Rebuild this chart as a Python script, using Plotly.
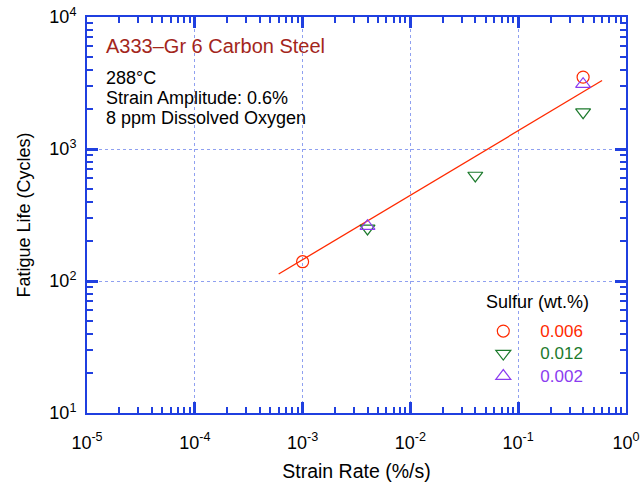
import plotly.graph_objects as go

# Data
s006_x = [1e-3, 0.4]
s006_y = [140, 3500]
s012_x = [0.004, 0.04, 0.4]
s012_y = [250, 630, 1900]
s002_x = [0.004, 0.4]
s002_y = [260, 3100]
fit_x = [6e-4, 0.6]
fit_y = [113, 3300]

x_tickvals = [1e-5, 1e-4, 1e-3, 1e-2, 1e-1, 1]
x_ticktext = ["10<sup>-5</sup>", "10<sup>-4</sup>", "10<sup>-3</sup>", "10<sup>-2</sup>", "10<sup>-1</sup>", "10<sup>0</sup>"]
y_tickvals = [10, 100, 1000, 10000]
y_ticktext = ["10<sup>1</sup>", "10<sup>2</sup>", "10<sup>3</sup>", "10<sup>4</sup>"]

info_lines = ["288°C", "Strain Amplitude: 0.6%", "8 ppm Dissolved Oxygen"]

RED = "#ff2a00"
GREEN = "#1c7a2c"
PURPLE = "#8b3cf0"
AXIS = "#1f3fe0"
TICK = "#2040e0"
GRID = "#8fa0f0"
FONT = "Liberation Sans, Arial, sans-serif"


def lg(color, text):
    return f"<span style='color:{color};font-size:17px'>{text}</span>"


fig = go.Figure()
fig.add_trace(go.Scatter(x=fit_x, y=fit_y, mode="lines", line=dict(color=RED, width=1.3),
                         showlegend=False, hoverinfo="skip"))
fig.add_trace(go.Scatter(x=s006_x, y=s006_y, mode="markers", name=lg(RED, "0.006"),
                         marker=dict(symbol="circle-open", size=12, color=RED, line=dict(width=1.2))))
fig.add_trace(go.Scatter(x=s012_x, y=s012_y, mode="markers", name=lg(GREEN, "0.012"),
                         marker=dict(symbol="triangle-down-open", size=13, color=GREEN, line=dict(width=1.2))))
fig.add_trace(go.Scatter(x=s002_x, y=s002_y, mode="markers", name=lg(PURPLE, "0.002"),
                         marker=dict(symbol="triangle-up-open", size=13, color=PURPLE, line=dict(width=1.2))))

axis_common = dict(
    type="log", showline=True, linecolor=AXIS, linewidth=2, mirror="allticks",
    ticks="inside", ticklen=11, tickwidth=3, tickcolor=TICK,
    gridcolor=GRID, gridwidth=1, griddash="dot",
    tickfont=dict(size=18, color="black", family=FONT),
    automargin=False,
    minor=dict(ticks="inside", ticklen=6, tickwidth=2, tickcolor=TICK, dtick="D1"),
)

fig.update_xaxes(range=[-5, 0], tickmode="array", tickvals=x_tickvals, ticktext=x_ticktext, ticklabelstandoff=12,
                 title=dict(text="Strain Rate (%/s)", font=dict(size=19.5, color="black", family=FONT), standoff=13),
                 **axis_common)
fig.update_yaxes(range=[1, 4], tickmode="array", tickvals=y_tickvals, ticktext=y_ticktext, ticklabelstandoff=5,
                 title=dict(text="Fatigue Life (Cycles)", font=dict(size=18, color="black", family=FONT), standoff=14),
                 **axis_common)

fig.add_annotation(xref="paper", yref="paper", x=0.031, y=0.927, xanchor="left", yanchor="middle",
                   text="A333–Gr 6 Carbon Steel", showarrow=False,
                   font=dict(size=20, color="#a3261c", family=FONT))
for i, line in enumerate(info_lines):
    fig.add_annotation(xref="paper", yref="paper", x=0.031, y=0.846 - i * 0.0505, xanchor="left", yanchor="middle",
                       text=line, showarrow=False, align="left",
                       font=dict(size=18, color="black", family=FONT))
fig.add_annotation(xref="paper", yref="paper", x=(485 - 87) / 540, y=0.28, xanchor="left", yanchor="middle",
                   text="Sulfur (wt.%)", showarrow=False, font=dict(size=18, color="black", family=FONT))

fig.update_layout(
    width=644, height=485,
    margin=dict(l=87, r=18, t=17, b=72),
    paper_bgcolor="white", plot_bgcolor="white",
    font=dict(family=FONT, color="black"),
    showlegend=True,
    legend=dict(x=(467 - 87) / 540, y=0.248, xanchor="left", yanchor="top", bgcolor="rgba(0,0,0,0)",
                font=dict(size=15), itemwidth=64, tracegroupgap=0),
)

fig.write_html("out.html")
